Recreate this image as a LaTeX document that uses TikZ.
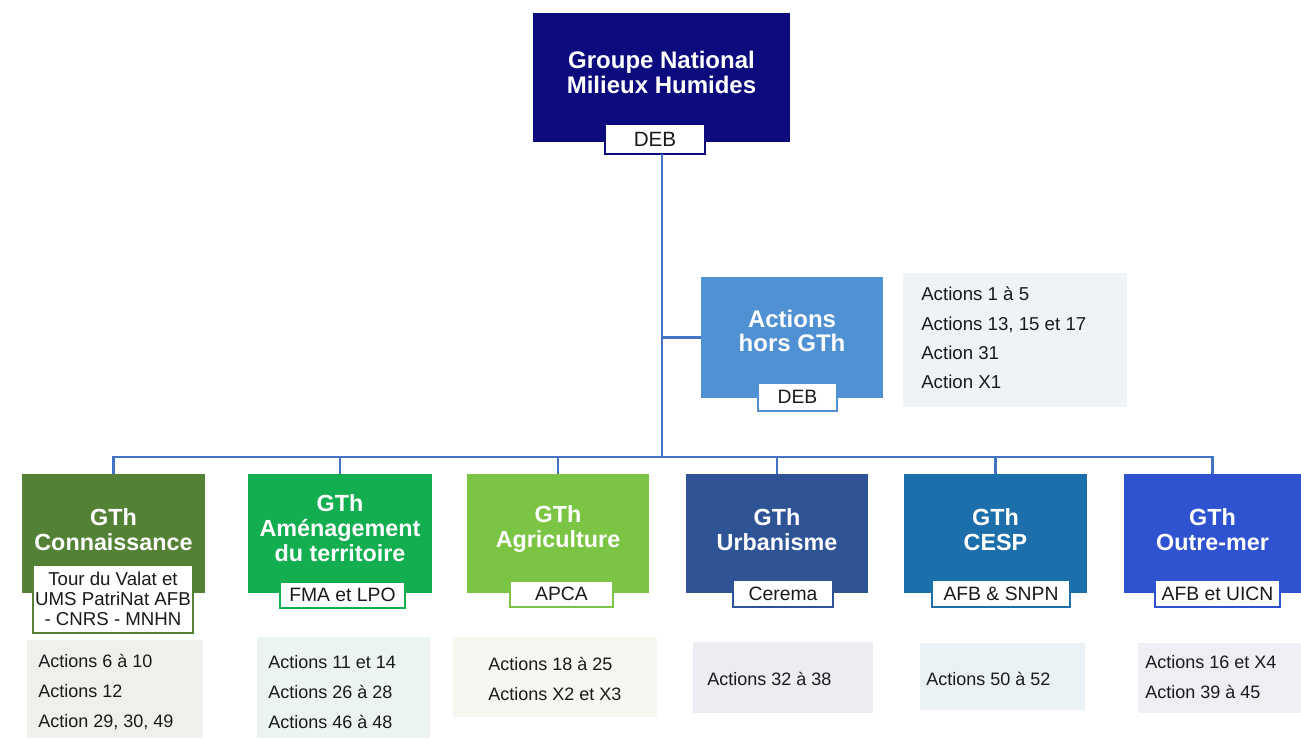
\documentclass[tikz,border=0pt]{standalone}
\usepackage{fontspec}
\setmainfont{Liberation Sans}
\definecolor{navy}{HTML}{0B0B7E}
\definecolor{ahblue}{HTML}{4F91D2}
\definecolor{cOlive}{HTML}{538135}
\definecolor{cGreen}{HTML}{12AE50}
\definecolor{cLime}{HTML}{7CC443}
\definecolor{cSlate}{HTML}{2F5496}
\definecolor{cTeal}{HTML}{1C6FAA}
\definecolor{cRoyal}{HTML}{2F52D0}
\definecolor{connc}{HTML}{4472C4}
\definecolor{pA}{HTML}{EFF2F7}
\definecolor{pOne}{HTML}{EEF0EC}
\definecolor{pTwo}{HTML}{EBF4EF}
\definecolor{pThree}{HTML}{F5F8F1}
\definecolor{pFour}{HTML}{EBEDF2}
\definecolor{pFive}{HTML}{EAF1F4}
\definecolor{pSix}{HTML}{EDEFF5}
\definecolor{txt}{HTML}{1A1A1A}
\begin{document}
\begin{tikzpicture}[x=0.75pt,y=-0.75pt,
  rect/.style={draw=none, inner sep=0pt, outer sep=0pt},
  gbox/.style={rect, fill=#1, minimum width=137pt, minimum height=89.25pt},
  ttl/.style={text=white, align=center, font=\bfseries\fontsize{17.5}{18.75}\selectfont, inner sep=0pt},
  lbl/.style={draw=#1, line width=1.5pt, fill=white, text=txt, inner sep=0pt, outer sep=0pt,
              minimum height=20pt, align=center, font=\fontsize{14.5}{15}\selectfont},
  panel/.style={rect, fill=#1},
  acts/.style={anchor=west, align=left, text=txt, inner sep=0pt, font=\fontsize{13.5}{22.5}\selectfont},
  conn/.style={draw=connc, line width=1.8pt}]
\useasboundingbox (0,0) rectangle (1301,738);

% top box
\node[rect, fill=navy, minimum width=192.75pt, minimum height=96.75pt] (gn) at (661.5,77.5) {};
\node[ttl, font=\bfseries\fontsize{18}{18.75}\selectfont] (gnt) at (661.5,72) {Groupe National\\Milieux Humides};
\node[lbl=navy, minimum width=75pt, minimum height=22.5pt, font=\fontsize{15.5}{15}\selectfont] (deb0) at (655,139) {DEB};

% actions hors GTh
\node[rect, fill=ahblue, minimum width=136.5pt, minimum height=90.75pt] (ah) at (792,337.5) {};
\node[ttl, font=\bfseries\fontsize{18}{17.5}\selectfont] (aht) at (792,331) {Actions\\hors GTh};
\node[lbl=ahblue, minimum width=59.25pt, minimum height=21pt] (deb1) at (797.5,397) {DEB};
\node[panel=pA, minimum width=168pt, minimum height=100.5pt] (pa) at (1015,340) {};
\node[acts, font=\fontsize{14}{22}\selectfont] (pat) at (921,338) {Actions 1 à 5\\Actions 13, 15 et 17\\Action 31\\Action X1};

% bottom boxes
\node[gbox=cOlive, minimum width=137.25pt] (b1) at (113.5,533.5) {};
\node[gbox=cGreen, minimum width=138pt] (b2) at (340,533.5) {};
\node[gbox=cLime, minimum width=136.5pt] (b3) at (558,533.5) {};
\node[gbox=cSlate, minimum width=136.5pt] (b4) at (777,533.5) {};
\node[gbox=cTeal, minimum width=137.25pt] (b5) at (995.5,533.5) {};
\node[gbox=cRoyal, minimum width=132.75pt] (b6) at (1212.5,533.5) {};

\node[ttl] (t1) at (113.5,529.5) {GTh\\Connaissance};
\node[ttl] (t2) at (340,528) {GTh\\Aménagement\\du territoire};
\node[ttl] (t3) at (558,529.5) {GTh\\Agriculture};
\node[ttl] (t4) at (777,529.5) {GTh\\Urbanisme};
\node[ttl] (t5) at (995.5,529.5) {GTh\\CESP};
\node[ttl] (t6) at (1212.5,529.5) {GTh\\Outre-mer};

\node[lbl=cOlive, minimum width=120pt, minimum height=51pt, font=\fontsize{14}{15}\selectfont] (l1) at (113,599) {Tour du Valat et\\UMS PatriNat AFB\\- CNRS - MNHN};
\node[lbl=cGreen, minimum width=93.75pt] (l2) at (342.5,595) {FMA et LPO};
\node[lbl=cLime, minimum width=77.25pt] (l3) at (561.5,594) {APCA};
\node[lbl=cSlate, minimum width=75pt] (l4) at (783,593.5) {Cerema};
\node[lbl=cTeal, minimum width=103.5pt] (l5) at (1001,593.5) {AFB \& SNPN};
\node[lbl=cRoyal, minimum width=93.75pt] (l6) at (1217.5,593.5) {AFB et UICN};

% action panels
\node[panel=pOne, minimum width=132pt, minimum height=73.5pt] (p1) at (115,689) {};
\node[panel=pTwo, minimum width=129.75pt, minimum height=75.75pt] (p2) at (343.5,687.5) {};
\node[panel=pThree, minimum width=153pt, minimum height=60pt] (p3) at (555,677) {};
\node[panel=pFour, minimum width=135pt, minimum height=53.25pt] (p4) at (783,677.5) {};
\node[panel=pFive, minimum width=123.75pt, minimum height=50.25pt] (p5) at (1002.5,676.5) {};
\node[panel=pSix, minimum width=122.25pt, minimum height=52.5pt] (p6) at (1219.5,678) {};

\node[acts] (a1) at (38,692) {Actions 6 à 10\\Actions 12\\Action 29, 30, 49};
\node[acts] (a2) at (268,692) {Actions 11 et 14\\Actions 26 à 28\\Actions 46 à 48};
\node[acts] (a3) at (488,678.5) {Actions 18 à 25\\Actions X2 et X3};
\node[acts] (a4) at (707,679) {Actions 32 à 38};
\node[acts] (a5) at (926,679) {Actions 50 à 52};
\node[acts] (a6) at (1145,677.5) {Actions 16 et X4\\Action 39 à 45};

% connectors
\coordinate (bus) at (662,457);
\draw[conn] (deb0.south -| bus) -- (bus);
\draw[conn] (ah.west -| bus) -- (ah.west);
\draw[conn] (b1.north) -- (b1.north |- bus) -- (b6.north |- bus) -- (b6.north);
\foreach \b in {b2,b3,b4,b5} \draw[conn] (\b.north) -- (\b.north |- bus);
\end{tikzpicture}
\end{document}
